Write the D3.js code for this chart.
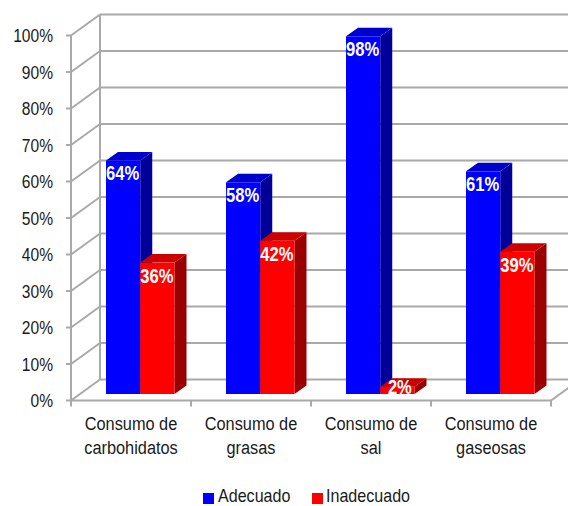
<!DOCTYPE html>
<html><head><meta charset="utf-8">
<script src="https://cdn.jsdelivr.net/npm/d3@7/dist/d3.min.js"></script>
<style>html,body{margin:0;padding:0;background:#fff}svg{display:block}
text{font-family:"Liberation Sans",Arial,sans-serif}</style>
</head><body><svg id="c" width="568" height="506"></svg>
<script>
const categoryLines = [["Consumo de","carbohidatos"],["Consumo de","grasas"],["Consumo de","sal"],["Consumo de","gaseosas"]];
const seriesNames = ["Adecuado","Inadecuado"];
const adecuado = [64,58,98,61];
const inadecuado = [36,42,2,39];
const yTicks = [0,10,20,30,40,50,60,70,80,90,100];
const faceColors = {Adecuado:["#0000ff","#000099","#0000cc"],Inadecuado:["#ff0000","#990000","#cc0000"]};

const svg = d3.select("#c");
const W=568;
const x = d3.scaleBand().domain(d3.range(4)).range([71,551]);
const y = d3.scaleLinear().domain([0,100]).range([400.5,35.5]);
const inner = d3.scaleBand().domain(seriesNames).range([35,103.5]);
const wall={dx:29,dy:-21}, depth={dx:12,dy:-8.5}, barLift=6.5, grid="#a9a9a9";
const narrow=(sel,px,py,k)=>sel.attr("transform",`translate(${px},${py}) scale(${k},1)`);

const g=svg.append("g").attr("fill","none").attr("stroke",grid).attr("stroke-width",2);
yTicks.forEach(t=>{
  g.append("line").attr("x1",71+wall.dx).attr("x2",W).attr("y1",y(t)+wall.dy).attr("y2",y(t)+wall.dy);
  g.append("line").attr("x1",71).attr("x2",71+wall.dx).attr("y1",y(t)).attr("y2",y(t)+wall.dy);
  g.append("line").attr("x1",66).attr("x2",71).attr("y1",y(t)).attr("y2",y(t));
});
g.append("line").attr("x1",71).attr("x2",71).attr("y1",y(0)).attr("y2",y(100));
g.append("line").attr("x1",71+wall.dx).attr("x2",71+wall.dx).attr("y1",y(0)+wall.dy).attr("y2",y(100)+wall.dy);
g.append("line").attr("x1",71).attr("x2",551).attr("y1",y(0)).attr("y2",y(0));
g.append("line").attr("x1",551).attr("x2",551+wall.dx).attr("y1",y(0)).attr("y2",y(0)+wall.dy);
[0,1,2,3,4].forEach(i=>{const px=71+i*x.step();g.append("line").attr("x1",px).attr("x2",px).attr("y1",y(0)).attr("y2",y(0)+6);});

const yl=svg.append("g");
yTicks.forEach(d=>{
  narrow(yl.append("text"),53,y(d)+6.5,0.82).attr("text-anchor","end")
    .attr("font-size",19).attr("fill","#1a1a1a").text(d+"%");
});

[["Adecuado",adecuado],["Inadecuado",inadecuado]].forEach(([name,vals])=>{
  const c=faceColors[name], b=svg.append("g");
  vals.forEach((v,i)=>{
    const x0=x(i)+inner(name), x1=x0+inner.bandwidth();
    const y0=y(0)-barLift, yt=y(v)-barLift;
    const p=(a)=>a.map(q=>q.join(",")).join(" ");
    b.append("polygon").attr("fill",c[1]).attr("points",p([[x1,yt],[x1+depth.dx,yt+depth.dy],[x1+depth.dx,y0+depth.dy],[x1,y0]]));
    b.append("polygon").attr("fill",c[2]).attr("points",p([[x0,yt],[x0+depth.dx,yt+depth.dy],[x1+depth.dx,yt+depth.dy],[x1,yt]]));
    b.append("rect").attr("fill",c[0]).attr("x",x0).attr("y",yt).attr("width",x1-x0).attr("height",y0-yt);
    narrow(b.append("text"),(x0+x1)/2+(v<5?3:0)-0.5,v<5?y0-0.5:yt+20,0.83)
      .attr("text-anchor","middle").attr("fill","#fff").attr("font-weight","bold").attr("font-size",20).text(v+"%");
  });
});

const cl=svg.append("g");
categoryLines.forEach((d,i)=>d.forEach((l,k)=>{
  narrow(cl.append("text"),x(i)+x.bandwidth()/2,430+k*24,0.86)
    .attr("text-anchor","middle").attr("font-size",19).attr("fill","#1a1a1a").text(l);
}));

const lg=svg.append("g");
[[203,218],[312,326]].forEach(([sx,tx],i)=>{
  lg.append("rect").attr("x",sx).attr("y",493).attr("width",11).attr("height",11).attr("fill",faceColors[seriesNames[i]][0]);
  narrow(lg.append("text"),tx,502,0.92).attr("font-size",17.5).attr("fill","#1a1a1a").text(seriesNames[i]);
});
</script></body></html>
